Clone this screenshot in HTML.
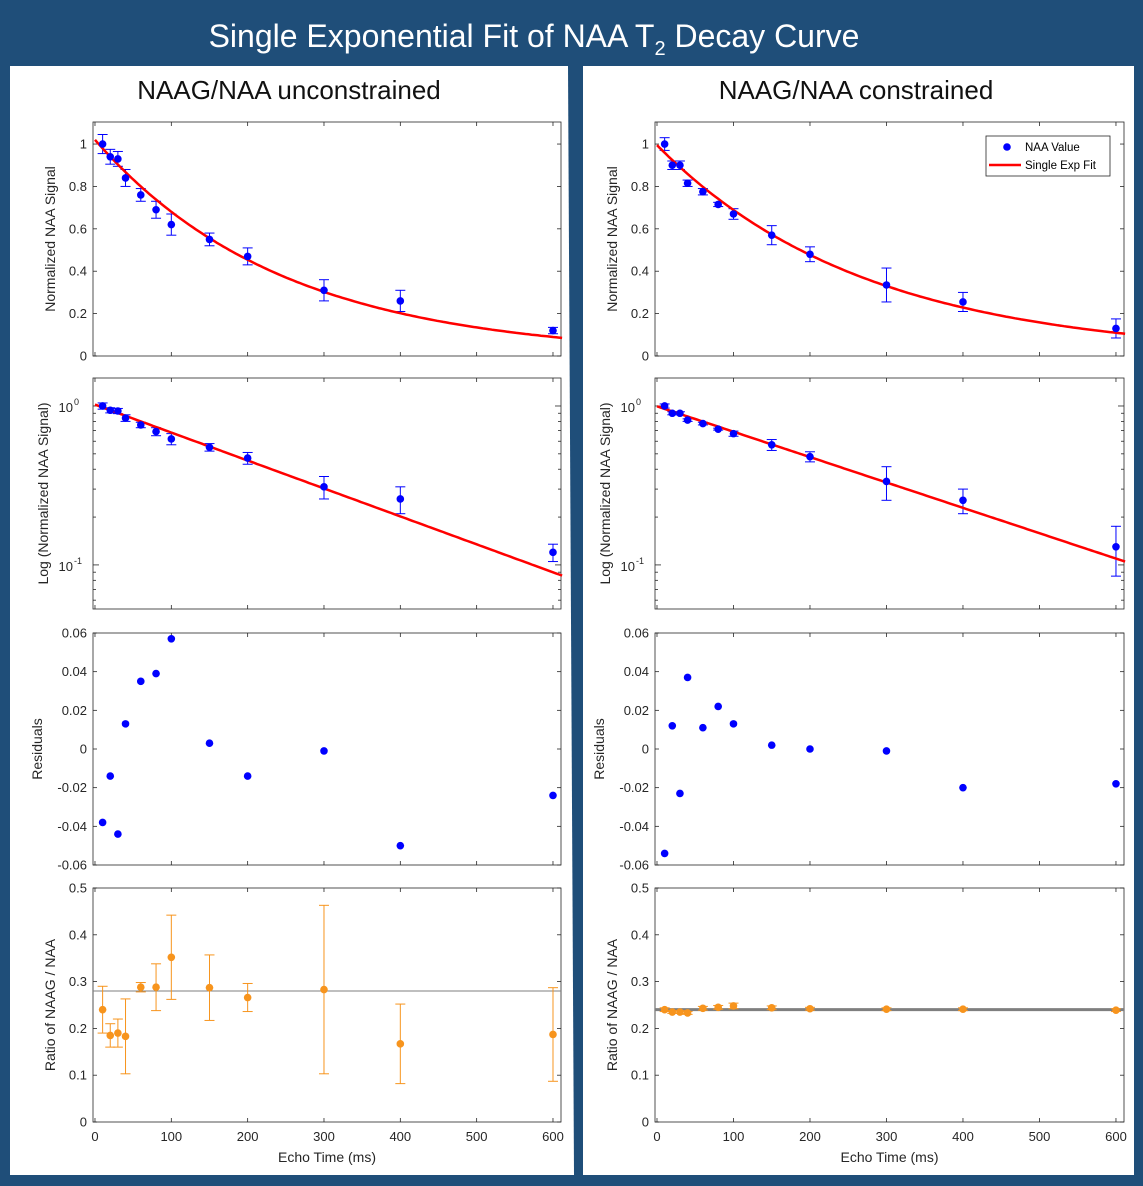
<!DOCTYPE html>
<html><head><meta charset="utf-8">
<style>
html,body{margin:0;padding:0;background:#1f4e79;}
svg{display:block;font-family:"Liberation Sans",sans-serif;}
</style></head>
<body>
<svg id="fig" width="1143" height="1186" viewBox="0 0 1143 1186" xmlns="http://www.w3.org/2000/svg">
<rect x="0" y="0" width="1143" height="1186" fill="#1f4e79"/>
<polygon points="10,66 568,66 574,1175 10,1175" fill="#fff"/>
<polygon points="583,66 1134,66 1134,1175 583,1175" fill="#fff"/>
<text x="534" y="47" text-anchor="middle" font-size="32" fill="#fff">Single Exponential Fit of NAA T<tspan font-size="20" dy="8">2</tspan><tspan dy="-8"> Decay Curve</tspan></text>
<text x="289" y="99" text-anchor="middle" font-size="26" fill="#111">NAAG/NAA unconstrained</text>
<text x="856" y="99" text-anchor="middle" font-size="26" fill="#111">NAAG/NAA constrained</text>
<g id="plots"></g>
</svg>
<script>
// ---- data ----
const echoTimes = [10,20,30,40,60,80,100,150,200,300,400,600];
const leftSignal = [1.0,0.94,0.93,0.84,0.76,0.69,0.62,0.55,0.47,0.31,0.26,0.12];
const leftSignalErr = [0.045,0.035,0.035,0.04,0.03,0.04,0.05,0.03,0.04,0.05,0.05,0.015];
const rightSignal = [1.0,0.9,0.9,0.815,0.775,0.715,0.67,0.57,0.48,0.335,0.255,0.13];
const rightSignalErr = [0.03,0.02,0.02,0.015,0.015,0.01,0.025,0.045,0.035,0.08,0.045,0.045];
const leftFit = [1.02,247];   // amplitude, T2
const rightFit = [0.995,272];
const leftResid = [-0.038,-0.014,-0.044,0.013,0.035,0.039,0.057,0.003,-0.014,-0.001,-0.050,-0.024];
const rightResid = [-0.054,0.012,-0.023,0.037,0.011,0.022,0.013,0.002,0.0,-0.001,-0.020,-0.018];
const leftRatio = [0.24,0.185,0.19,0.183,0.288,0.288,0.352,0.287,0.266,0.283,0.167,0.187];
const leftRatioErr = [0.05,0.025,0.03,0.08,0.01,0.05,0.09,0.07,0.03,0.18,0.085,0.1];
const rightRatio = [0.24,0.235,0.235,0.233,0.243,0.245,0.248,0.244,0.242,0.241,0.241,0.239];
const rightRatioErr = [0.004,0.003,0.003,0.003,0.004,0.004,0.006,0.004,0.003,0.003,0.003,0.003];
const leftRatioMean = [0.28];
const rightRatioMean = [0.24];
const xTicks = [0,100,200,300,400,500,600];
const sigTicks = [0,0.2,0.4,0.6,0.8,1];
const residTicks = [-0.06,-0.04,-0.02,0,0.02,0.04,0.06];
const ratioTicks = [0,0.1,0.2,0.3,0.4,0.5];

const NS="http://www.w3.org/2000/svg";
const root=document.getElementById('plots');
function mk(tag,attrs,parent){const e=document.createElementNS(NS,tag);for(const k in attrs)e.setAttribute(k,attrs[k]);(parent||root).appendChild(e);return e;}

const rows=[{y0:122,y1:356},{y0:378,y1:609},{y0:633,y1:865},{y0:888,y1:1122}];
const cols=[{x0:93,x1:561,side:'left'},{x0:655,x1:1124,side:'right'}];

function xScale(c){const a=c.x0, b=c.x1; return v=>a+(v+2.6)/(613.1)*(b-a);}
function linY(r,lo,hi){return v=>r.y1-(v-lo)/(hi-lo)*(r.y1-r.y0);}
function logY(r,lo,hi){const L=Math.log10(lo),H=Math.log10(hi);return v=>r.y1-(Math.log10(v)-L)/(H-L)*(r.y1-r.y0);}

function frame(c,r,name){
  const g=mk('g',{});
  
  
  const rc=mk('rect',{x:c.x0,y:r.y0,width:c.x1-c.x0,height:r.y1-r.y0,fill:'#fff',stroke:'#262626','stroke-width':0.8},g);
  
  
  return g;
}
function xAxis(g,c,r,X,labels){
  xTicks.forEach(t=>{
    const x=X(t);
    mk('line',{x1:x,x2:x,y1:r.y1,y2:r.y1-4,stroke:'#262626','stroke-width':0.8},g);
    mk('line',{x1:x,x2:x,y1:r.y0,y2:r.y0+4,stroke:'#262626','stroke-width':0.8},g);
    if(labels){const tx=mk('text',{x:x,y:r.y1+19,'text-anchor':'middle','font-size':13,fill:'#262626'},g);tx.textContent=t;
      
      }
  });
  if(labels){const t=mk('text',{x:(c.x0+c.x1)/2,y:r.y1+40,'text-anchor':'middle','font-size':14,fill:'#262626'},g);t.textContent='Echo Time (ms)';
    
    }
}
function yAxis(g,c,r,Y,ticks,fmt){
  ticks.forEach(t=>{
    const y=Y(t);
    mk('line',{x1:c.x0,x2:c.x0+4,y1:y,y2:y,stroke:'#262626','stroke-width':0.8},g);
    mk('line',{x1:c.x1,x2:c.x1-4,y1:y,y2:y,stroke:'#262626','stroke-width':0.8},g);
    const tx=mk('text',{x:c.x0-6,y:y+4.5,'text-anchor':'end','font-size':13,fill:'#262626'},g);tx.textContent=fmt(t);
    
    
  });
}
function yTitle(g,c,r,txt,off){
  const cy=(r.y0+r.y1)/2, x=c.x0-off;
  const t=mk('text',{x:x,y:cy,'text-anchor':'middle','font-size':14,fill:'#262626',transform:`rotate(-90 ${x} ${cy})`},g);
  t.textContent=txt;
  
  
}
function errBar(g,x,yl,yh,color){
  mk('line',{x1:x,x2:x,y1:yl,y2:yh,stroke:color,'stroke-width':1},g);
  mk('line',{x1:x-5,x2:x+5,y1:yl,y2:yl,stroke:color,'stroke-width':1},g);
  mk('line',{x1:x-5,x2:x+5,y1:yh,y2:yh,stroke:color,'stroke-width':1},g);
}
function dot(g,x,y,color,name){
  const c=mk('circle',{cx:x,cy:y,r:3.8,fill:color},g);
  
  
}
function fitPath(X,Y,fit){
  let d='';
  for(let t=0;t<=612;t+=4){const v=fit[0]*Math.exp(-t/fit[1]);d+=(d?'L':'M')+X(t).toFixed(1)+','+Y(v).toFixed(1);}
  return d;
}
const fmt1=v=>v===0?'0':(v===1?'1':v.toFixed(1));
const fmt2=v=>v===0?'0':v.toFixed(2);

cols.forEach((c,ci)=>{
  const X=xScale(c);
  const sig=ci?rightSignal:leftSignal, sigE=ci?rightSignalErr:leftSignalErr, fit=ci?rightFit:leftFit;
  const res=ci?rightResid:leftResid, rat=ci?rightRatio:leftRatio, ratE=ci?rightRatioErr:leftRatioErr;
  const mean=ci?rightRatioMean:leftRatioMean;
  // plot 1
  let r=rows[0], Y=linY(r,0,1.104), g=frame(c,r,c.side+'-signal-plot');
  xAxis(g,c,r,X,false); yAxis(g,c,r,Y,sigTicks,fmt1); yTitle(g,c,r,'Normalized NAA Signal',38);
  echoTimes.forEach((t,i)=>errBar(g,X(t),Y(sig[i]-sigE[i]),Y(sig[i]+sigE[i]),'#0000ff'));
  let p=mk('path',{d:fitPath(X,Y,fit),fill:'none',stroke:'#ff0000','stroke-width':2.5},g);
  
  
  echoTimes.forEach((t,i)=>dot(g,X(t),Y(sig[i]),'#0000ff','naa-point'));
  if(ci){
    const lg=mk('g',{},g);
    
    
    mk('rect',{x:986,y:136,width:124,height:40,fill:'#fff',stroke:'#262626','stroke-width':0.8},lg);
    mk('circle',{cx:1007,cy:147,r:3.8,fill:'#0000ff'},lg);
    let t1=mk('text',{x:1025,y:151,'font-size':11.5,fill:'#000'},lg);t1.textContent='NAA Value';
    
    
    mk('line',{x1:989,x2:1021,y1:165,y2:165,stroke:'#ff0000','stroke-width':2.5},lg);
    let t2=mk('text',{x:1025,y:169,'font-size':11.5,fill:'#000'},lg);t2.textContent='Single Exp Fit';
    
    
  }
  // plot 2 (log)
  r=rows[1]; Y=logY(r,0.0528,1.5); g=frame(c,r,c.side+'-log-plot');
  xAxis(g,c,r,X,false);
  for(const dec of [0.01,0.1,1]) for(let m=1;m<10;m++){const v=dec*m; if(v<0.0528||v>1.5)continue; const y=Y(v); const L=m===1?6:3;
    mk('line',{x1:c.x0,x2:c.x0+L,y1:y,y2:y,stroke:'#262626','stroke-width':0.8},g);
    mk('line',{x1:c.x1,x2:c.x1-L,y1:y,y2:y,stroke:'#262626','stroke-width':0.8},g);}
  [[1,'0'],[0.1,'-1']].forEach(([v,e])=>{const tx=mk('text',{x:c.x0-20,y:Y(v)+6,'text-anchor':'end','font-size':13,fill:'#262626'},g);
    tx.textContent='10';
    
    
    const s=mk('text',{x:c.x0-19,y:Y(v)-1,'text-anchor':'start','font-size':9,fill:'#262626'},g);s.textContent=e;});
  yTitle(g,c,r,'Log (Normalized NAA Signal)',45);
  echoTimes.forEach((t,i)=>errBar(g,X(t),Y(sig[i]-sigE[i]),Y(sig[i]+sigE[i]),'#0000ff'));
  p=mk('path',{d:fitPath(X,Y,fit),fill:'none',stroke:'#ff0000','stroke-width':2.5},g);
  
  
  echoTimes.forEach((t,i)=>dot(g,X(t),Y(sig[i]),'#0000ff','naa-point'));
  // plot 3 residuals
  r=rows[2]; Y=linY(r,-0.06,0.06); g=frame(c,r,c.side+'-residuals-plot');
  xAxis(g,c,r,X,false); yAxis(g,c,r,Y,residTicks,fmt2); yTitle(g,c,r,'Residuals',51);
  echoTimes.forEach((t,i)=>dot(g,X(t),Y(res[i]),'#0000ff','residual-point'));
  // plot 4 ratio
  r=rows[3]; Y=linY(r,0,0.5); g=frame(c,r,c.side+'-ratio-plot');
  xAxis(g,c,r,X,true); yAxis(g,c,r,Y,ratioTicks,fmt1); yTitle(g,c,r,'Ratio of NAAG / NAA',38);
  const ml=mk('line',{x1:c.x0,x2:c.x1,y1:Y(mean[0]),y2:Y(mean[0]),stroke:'#7f7f7f','stroke-width':ci?3:1},g);
  
  
  echoTimes.forEach((t,i)=>errBar(g,X(t),Y(rat[i]-ratE[i]),Y(rat[i]+ratE[i]),'#f7941d'));
  echoTimes.forEach((t,i)=>dot(g,X(t),Y(rat[i]),'#f7941d','ratio-point'));
});
</script>
</body></html>
